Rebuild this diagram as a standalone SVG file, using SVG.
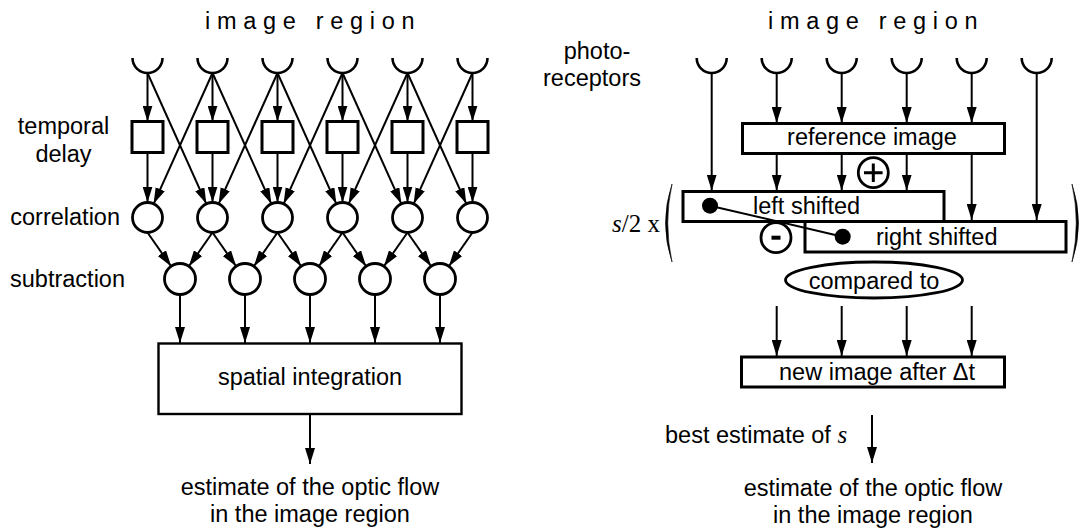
<svg xmlns="http://www.w3.org/2000/svg" width="1079" height="531" viewBox="0 0 1079 531">
<style>
text{font-family:"Liberation Sans",Arial,Helvetica,sans-serif;font-size:23.5px;fill:#000}
.tm{font-family:"Liberation Serif","Times New Roman",serif;font-size:25px}
.hd{letter-spacing:6.7px}
.cup{fill:none;stroke:#000;stroke-width:2.6}
.box{fill:#fff;stroke:#000;stroke-width:3}
.thin{fill:#fff;stroke:#000;stroke-width:2.4}
.circ{fill:#fff;stroke:#000;stroke-width:2.8}
.ln{fill:none;stroke:#000;stroke-width:2}
.ar{fill:none;stroke:#000;stroke-width:2;marker-end:url(#ah)}
.paren{fill:#000;stroke:#000;stroke-width:0.6}
.dot{fill:#000}
</style>
<defs>
<marker id="ah" markerWidth="16" markerHeight="10" refX="16" refY="5" orient="auto" markerUnits="userSpaceOnUse"><path d="M0,0 L16,5 L0,10 z" fill="#000"/></marker>
</defs>
<rect width="1079" height="531" fill="#fff"/>

<!-- ================= LEFT DIAGRAM ================= -->
<g id="left-labels">
<text class="hd" x="205" y="28.5">image region</text>
<text x="63.5" y="134" text-anchor="middle">temporal</text>
<text x="63.5" y="162" text-anchor="middle">delay</text>
<text x="120" y="225" text-anchor="end">correlation</text>
<text x="125" y="287" text-anchor="end">subtraction</text>
<text x="310" y="495" text-anchor="middle">estimate of the optic flow</text>
<text x="310" y="522" text-anchor="middle">in the image region</text>
</g>

<g id="left-connectors">
<!-- receptor to delay -->
<path class="ar" d="M147.5,73V121.5"/>
<path class="ar" d="M212.5,73V121.5"/>
<path class="ar" d="M277.5,73V121.5"/>
<path class="ar" d="M342.5,73V121.5"/>
<path class="ar" d="M407.5,73V121.5"/>
<path class="ar" d="M472.5,73V121.5"/>
<!-- delay to correlation -->
<path class="ar" d="M147.5,152.5V202.5"/>
<path class="ar" d="M212.5,152.5V202.5"/>
<path class="ar" d="M277.5,152.5V202.5"/>
<path class="ar" d="M342.5,152.5V202.5"/>
<path class="ar" d="M407.5,152.5V202.5"/>
<path class="ar" d="M472.5,152.5V202.5"/>
<!-- diagonals right -->
<path class="ar" d="M147.5,73L206.35,203.8"/>
<path class="ar" d="M212.5,73L271.35,203.8"/>
<path class="ar" d="M277.5,73L336.35,203.8"/>
<path class="ar" d="M342.5,73L401.35,203.8"/>
<path class="ar" d="M407.5,73L466.35,203.8"/>
<!-- diagonals left -->
<path class="ar" d="M212.5,73L153.65,203.8"/>
<path class="ar" d="M277.5,73L218.65,203.8"/>
<path class="ar" d="M342.5,73L283.65,203.8"/>
<path class="ar" d="M407.5,73L348.65,203.8"/>
<path class="ar" d="M472.5,73L413.65,203.8"/>
<!-- correlation to subtraction -->
<path class="ar" d="M147.5,232.5L171.1,266.3"/>
<path class="ar" d="M212.5,232.5L188.9,266.3"/>
<path class="ar" d="M212.5,232.5L236.1,266.3"/>
<path class="ar" d="M277.5,232.5L253.9,266.3"/>
<path class="ar" d="M277.5,232.5L301.1,266.3"/>
<path class="ar" d="M342.5,232.5L318.9,266.3"/>
<path class="ar" d="M342.5,232.5L366.1,266.3"/>
<path class="ar" d="M407.5,232.5L383.9,266.3"/>
<path class="ar" d="M407.5,232.5L431.1,266.3"/>
<path class="ar" d="M472.5,232.5L448.9,266.3"/>
<!-- subtraction to integration -->
<path class="ar" d="M180,294.5V343"/>
<path class="ar" d="M245,294.5V343"/>
<path class="ar" d="M310,294.5V343"/>
<path class="ar" d="M375,294.5V343"/>
<path class="ar" d="M440,294.5V343"/>
<!-- output -->
<path class="ar" d="M310,414V464"/>
</g>

<g id="left-receptors">
<path class="cup" d="M132.5,58A15,15 0 0 0 162.5,58"/>
<path class="cup" d="M197.5,58A15,15 0 0 0 227.5,58"/>
<path class="cup" d="M262.5,58A15,15 0 0 0 292.5,58"/>
<path class="cup" d="M327.5,58A15,15 0 0 0 357.5,58"/>
<path class="cup" d="M392.5,58A15,15 0 0 0 422.5,58"/>
<path class="cup" d="M457.5,58A15,15 0 0 0 487.5,58"/>
</g>

<g id="delays">
<rect class="box" x="132" y="121.5" width="31" height="31"/>
<rect class="box" x="197" y="121.5" width="31" height="31"/>
<rect class="box" x="262" y="121.5" width="31" height="31"/>
<rect class="box" x="327" y="121.5" width="31" height="31"/>
<rect class="box" x="392" y="121.5" width="31" height="31"/>
<rect class="box" x="457" y="121.5" width="31" height="31"/>
</g>

<g id="correlations">
<circle class="circ" cx="147.5" cy="217.5" r="15"/>
<circle class="circ" cx="212.5" cy="217.5" r="15"/>
<circle class="circ" cx="277.5" cy="217.5" r="15"/>
<circle class="circ" cx="342.5" cy="217.5" r="15"/>
<circle class="circ" cx="407.5" cy="217.5" r="15"/>
<circle class="circ" cx="472.5" cy="217.5" r="15"/>
</g>

<g id="subtractions">
<circle class="circ" cx="180" cy="279" r="15.5"/>
<circle class="circ" cx="245" cy="279" r="15.5"/>
<circle class="circ" cx="310" cy="279" r="15.5"/>
<circle class="circ" cx="375" cy="279" r="15.5"/>
<circle class="circ" cx="440" cy="279" r="15.5"/>
</g>

<g id="spatial-integration">
<rect class="thin" x="158.5" y="343.5" width="303" height="70.5"/>
<text x="310" y="385" text-anchor="middle">spatial integration</text>
</g>

<!-- ================= RIGHT DIAGRAM ================= -->
<g id="right-labels">
<text class="hd" x="768" y="28.5">image region</text>
<text x="597" y="58.5" text-anchor="middle">photo-</text>
<text x="592" y="85.5" text-anchor="middle">receptors</text>
<text x="660" y="232" text-anchor="end" class="tm"><tspan font-style="italic">s</tspan>/2 x</text>
<text x="665" y="443">best estimate of <tspan class="tm" font-style="italic">s</tspan></text>
<text x="873" y="496" text-anchor="middle">estimate of the optic flow</text>
<text x="873" y="523" text-anchor="middle">in the image region</text>
</g>

<g id="right-connectors">
<path class="ar" d="M711.7,73V190.5"/>
<path class="ar" d="M776.7,73V123"/>
<path class="ar" d="M841.7,73V123"/>
<path class="ar" d="M906.7,73V123"/>
<path class="ar" d="M971.7,73V123"/>
<path class="ar" d="M1036.7,73V220"/>
<path class="ar" d="M776.7,153V190.5"/>
<path class="ar" d="M841.7,153V190.5"/>
<path class="ar" d="M906.7,153V190.5"/>
<path class="ar" d="M971.7,153V220"/>
<path class="ar" d="M776.7,306V356"/>
<path class="ar" d="M841.7,306V356"/>
<path class="ar" d="M906.7,306V356"/>
<path class="ar" d="M971.7,306V356"/>
<path class="ar" d="M872,415V463"/>
</g>

<g id="right-receptors">
<path class="cup" d="M696.7,58A15,15 0 0 0 726.7,58"/>
<path class="cup" d="M761.7,58A15,15 0 0 0 791.7,58"/>
<path class="cup" d="M826.7,58A15,15 0 0 0 856.7,58"/>
<path class="cup" d="M891.7,58A15,15 0 0 0 921.7,58"/>
<path class="cup" d="M956.7,58A15,15 0 0 0 986.7,58"/>
<path class="cup" d="M1021.7,58A15,15 0 0 0 1051.7,58"/>
</g>

<g id="reference-image">
<rect class="box" x="742.5" y="123.5" width="262" height="30"/>
<text x="872" y="145" text-anchor="middle">reference image</text>
</g>

<g id="plus">
<circle class="circ" cx="873.3" cy="172.7" r="15"/>
<path d="M864,172.7H882.6M873.3,163.4V182" stroke="#000" stroke-width="3" fill="none"/>
</g>

<g id="left-shifted">
<rect class="box" x="683" y="191.5" width="261" height="30"/>
<text x="753" y="213.5">left shifted</text>
</g>

<g id="right-shifted">
<rect class="box" x="805" y="221.5" width="261" height="30.5"/>
<text x="876" y="245">right shifted</text>
</g>

<g id="difference">
<path class="ln" d="M710,205.7L842.7,236.7"/>
<circle class="dot" cx="710" cy="205.7" r="8"/>
<circle class="dot" cx="842.7" cy="236.7" r="8"/>
</g>

<g id="minus">
<circle class="circ" cx="776" cy="237.7" r="15"/>
<rect x="771.5" y="235.7" width="9" height="4" fill="#000"/>
</g>

<g id="brackets">
<path class="paren" d="M672,184Q659,223 672,262Q663.5,223 672,184Z"/>
<path class="paren" d="M1072,184Q1085,223 1072,262Q1080.5,223 1072,184Z"/>
</g>

<g id="compared-to">
<ellipse class="circ" cx="874" cy="280" rx="88.5" ry="18"/>
<text x="874" y="288.5" text-anchor="middle">compared to</text>
</g>

<g id="new-image">
<rect class="box" x="741.5" y="357" width="263" height="30"/>
<text x="877" y="380" text-anchor="middle">new image after Δt</text>
</g>
</svg>
